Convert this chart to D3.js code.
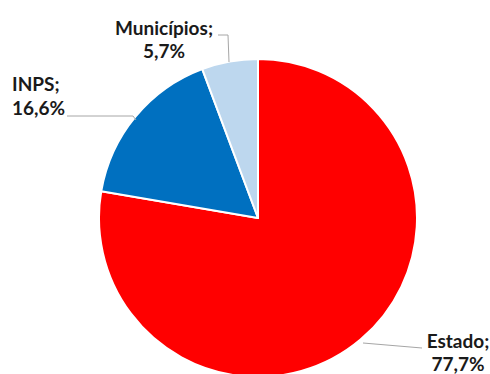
<!DOCTYPE html>
<html><head><meta charset="utf-8">
<script src="https://cdn.jsdelivr.net/npm/d3@7"></script>
<style>body{margin:0;background:#fff;}svg{display:block;}</style>
</head><body>
<script>
const categories = ["Estado", "INPS", "Municípios"];
const values = [77.7, 16.6, 5.7];
const valueLabels = ["77,7%", "16,6%", "5,7%"];
const colors = ["#FF0000", "#0070C0", "#BDD7EE"];

const W = 490, H = 374;
const cx = 258, cy = 218, r = 159;
const svg = d3.select("body").append("svg").attr("width", W).attr("height", H);
const g = svg.append("g").attr("transform", `translate(${cx},${cy})`);
const pie = d3.pie().sort(null).value(d => d)(values);
const arc = d3.arc().innerRadius(0).outerRadius(r);
g.selectAll("path").data(pie).join("path")
  .attr("d", arc).attr("fill", (d,i) => colors[i])
  .attr("stroke", "#fff").attr("stroke-width", 2).attr("stroke-linejoin","round");

const labelPos = [
  {x: 458, y1: 348, y2: 371, anchor: "middle"},
  {x: 12, y1: 91, y2: 115, anchor: "start"},
  {x: 164, y1: 35, y2: 58, anchor: "middle"}
];
const leaders = [
  [[422, 348], [363, 343]],
  [[67, 116], [133, 116], [136, 120]],
  [[218, 35], [228, 35], [229, 62]]
];
svg.selectAll("path.leader").data(leaders).join("path")
  .attr("class","leader").attr("fill","none").attr("stroke","#A6A6A6").attr("stroke-width",1)
  .attr("d", d => d3.line()(d));
const tg = svg.append("g").attr("font-family","Lato, 'Open Sans', sans-serif").attr("font-weight","bold")
  .attr("font-size", 19).attr("fill","#1a1a1a");
categories.forEach((c,i) => {
  const p = labelPos[i];
  tg.append("text").attr("x", p.x).attr("y", p.y1).attr("text-anchor", p.anchor).text(c + ";");
  tg.append("text").attr("x", p.x).attr("y", p.y2).attr("text-anchor", p.anchor).text(valueLabels[i]);
});
</script>
</body></html>
